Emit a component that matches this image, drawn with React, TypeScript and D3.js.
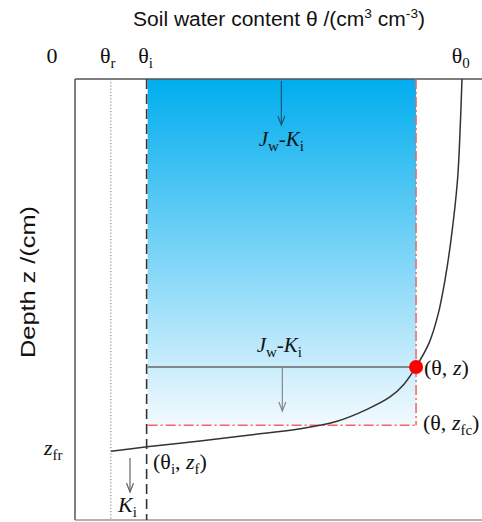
import React from "react";
import * as d3 from "d3";

// ---- data (θ in cm3/cm3, depth z in cm) ----
const thetaR = 0.044;
const thetaI = 0.088;
const thetaFront = 0.419;
const theta0 = 0.475;
const zDot = 65.3;
const zFc = 78.5;
const zMax = 100;

const profileTheta = [0.4754, 0.4736, 0.4699, 0.4619, 0.4545, 0.4459, 0.4349, 0.4189, 0.4042, 0.3870, 0.3587, 0.3219, 0.2764, 0.2150, 0.1536, 0.0885, 0.0442];
const profileZ = [0, 9.3, 22.9, 36.5, 45.6, 53.5, 59.9, 65.3, 69.2, 72.1, 74.9, 77.6, 79.3, 80.7, 82.1, 83.4, 84.4];

const W = 482;
const H = 522;

export default function App() {
  const x = d3.scaleLinear().domain([0, 0.5]).range([75, 482]);
  const y = d3.scaleLinear().domain([0, zMax]).range([79, 520]);

  const pts: [number, number][] = profileTheta.map((t, i) => [x(t), y(profileZ[i])]);
  const line = d3.line().curve(d3.curveCatmullRom.alpha(0.5))(pts) || "";

  const serif = "'Liberation Serif', 'Times New Roman', serif";
  const sans = "'Liberation Sans', Arial, sans-serif";

  const arrow = (cx: number, y1: number, y2: number, color: string) => (
    <g stroke={color} fill="none" strokeWidth={1.2}>
      <line x1={cx} y1={y1} x2={cx} y2={y2} />
      <polyline points={`${cx - 3.5},${y2 - 9} ${cx},${y2} ${cx + 3.5},${y2 - 9}`} />
    </g>
  );

  const jwki = (cx: number, by: number) => (
    <text x={cx} y={by} textAnchor="middle" fontFamily={serif} fontSize={21} fill="#111">
      <tspan fontStyle="italic">J</tspan>
      <tspan fontSize={15} dy={5}>w</tspan>
      <tspan dy={-5}>-</tspan>
      <tspan fontStyle="italic">K</tspan>
      <tspan fontSize={15} dy={5}>i</tspan>
    </text>
  );

  const xMid = (x(thetaI) + x(thetaFront)) / 2;

  return (
    <svg width={W} height={H} style={{ position: "absolute", left: 0, top: 0, background: "#fff" }}>
      <defs>
        <linearGradient id="wet" x1="0" y1="0" x2="0" y2="1">
          <stop offset="0%" stopColor="#00adee" />
          <stop offset="100%" stopColor="#f3faff" />
        </linearGradient>
      </defs>

      {/* title */}
      <text x={133} y={26} fontFamily={sans} fontSize={20} fill="#111" textLength={292} lengthAdjust="spacingAndGlyphs">
        Soil water content θ /(cm
        <tspan fontSize={13} dy={-8}>3</tspan>
        <tspan dy={8}> cm</tspan>
        <tspan fontSize={13} dy={-8}>-3</tspan>
        <tspan dy={8}>)</tspan>
      </text>

      {/* top tick labels */}
      <g fontFamily={serif} fontSize={22} fill="#111" textAnchor="middle">
        <text x={52} y={63}>0</text>
        <text x={x(thetaR) - 3} y={63}>θ<tspan fontSize={15} dy={5}>r</tspan></text>
        <text x={x(thetaI) - 1} y={63}>θ<tspan fontSize={15} dy={5}>i</tspan></text>
        <text x={x(theta0) - 1} y={63}>θ<tspan fontSize={15} dy={5}>0</tspan></text>
      </g>

      {/* y label */}
      <text transform={`translate(35,282) rotate(-90)`} x={-76} y={0} fontFamily={sans} fontSize={20} fill="#111" textLength={152} lengthAdjust="spacingAndGlyphs">
        Depth z /(cm)
      </text>

      {/* wetted zone */}
      <rect x={x(thetaI) + 1} y={y(0)} width={x(thetaFront) - x(thetaI) - 1} height={y(zFc) - y(0)} fill="url(#wet)" />

      {/* frame */}
      <line x1={x(0)} y1={y(0)} x2={W} y2={y(0)} stroke="#555" strokeWidth={1.5} />
      <line x1={x(0)} y1={y(0)} x2={x(0)} y2={y(zMax)} stroke="#555" strokeWidth={1.5} />
      <line x1={x(0)} y1={y(zMax)} x2={W} y2={y(zMax)} stroke="#999" strokeWidth={1.5} />

      {/* θr dotted, θi dashed */}
      <line x1={x(thetaR)} y1={y(0)} x2={x(thetaR)} y2={y(zMax)} stroke="#777" strokeWidth={1} strokeDasharray="1.2,2" />
      <line x1={x(thetaI)} y1={y(0)} x2={x(thetaI)} y2={y(zMax)} stroke="#333" strokeWidth={1.6} strokeDasharray="10,5" />

      {/* red dash-dot front */}
      <g stroke="#f26565" strokeWidth={1.5} strokeDasharray="10,3,2,3" fill="none">
        <line x1={x(thetaFront)} y1={y(0)} x2={x(thetaFront)} y2={y(zFc)} />
        <line x1={x(thetaI) + 1} y1={y(zFc)} x2={x(thetaFront)} y2={y(zFc)} />
      </g>

      {/* horizontal line at z */}
      <line x1={x(thetaI) + 1} y1={y(zDot)} x2={x(thetaFront)} y2={y(zDot)} stroke="#666" strokeWidth={1.5} />

      {/* profile curve */}
      <path d={line} fill="none" stroke="#333" strokeWidth={1.5} />

      {/* red dot */}
      <circle cx={x(thetaFront)} cy={y(zDot)} r={7} fill="#ff0000" />

      {/* arrows & labels */}
      {arrow(xMid, y(0) + 2, 125, "#1f5874")}
      {jwki(xMid, 146)}
      {jwki(xMid - 2, 352)}
      {arrow(xMid + 1, y(zDot) + 1, 411, "#888")}
      {arrow(130, 458, 492, "#666")}

      <g fontFamily={serif} fontSize={22} fill="#111">
        <text x={424} y={375}>(θ, <tspan fontStyle="italic">z</tspan>)</text>
        <text x={423} y={430}>(θ, <tspan fontStyle="italic">z</tspan><tspan fontSize={15} dy={5}>fc</tspan><tspan dy={-5}>)</tspan></text>
        <text x={153} y={469}>(θ<tspan fontSize={15} dy={5}>i</tspan><tspan dy={-5}>, </tspan><tspan fontStyle="italic">z</tspan><tspan fontSize={15} dy={5}>f</tspan><tspan dy={-5}>)</tspan></text>
        <text x={44} y={455}><tspan fontStyle="italic">z</tspan><tspan fontSize={15} dy={5}>fr</tspan></text>
        <text x={118} y={512}><tspan fontStyle="italic">K</tspan><tspan fontSize={15} dy={5}>i</tspan></text>
      </g>
    </svg>
  );
}
